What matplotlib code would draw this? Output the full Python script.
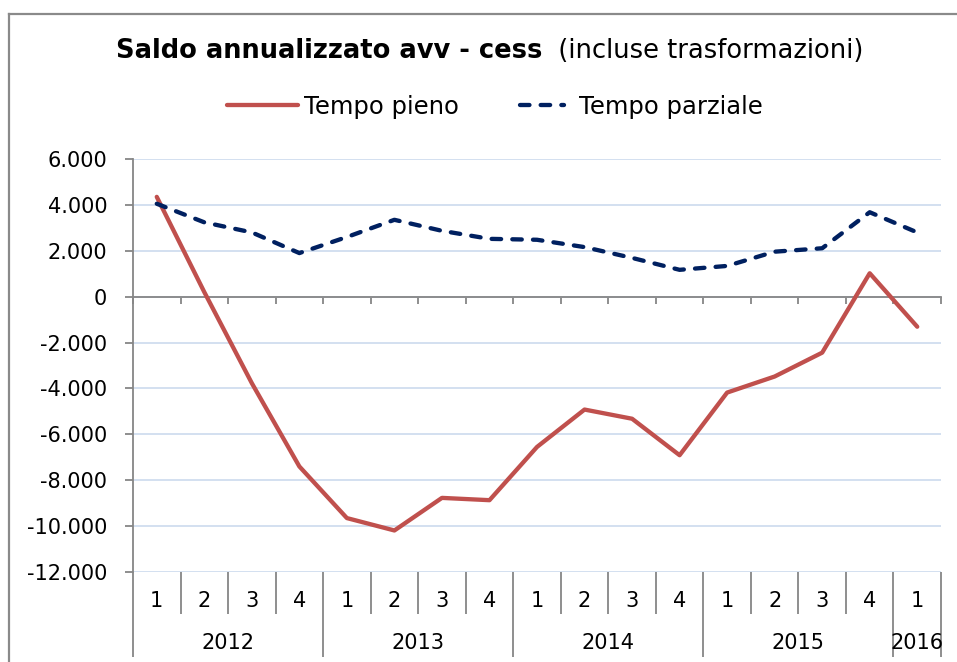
import matplotlib
matplotlib.use("Agg")
import matplotlib.pyplot as plt
from matplotlib.lines import Line2D
from matplotlib.legend_handler import HandlerLine2D
import matplotlib.transforms as mtransforms
import numpy as np

# ---- data ----
years = ["2012", "2013", "2014", "2015", "2016"]
quarters = ["1", "2", "3", "4", "1", "2", "3", "4", "1", "2", "3", "4",
            "1", "2", "3", "4", "1"]
year_of_point = ["2012"] * 4 + ["2013"] * 4 + ["2014"] * 4 + ["2015"] * 4 + ["2016"]
tempo_pieno = [4350, 200, -3770, -7400, -9650, -10190, -8770, -8870,
               -6550, -4920, -5320, -6910, -4180, -3480, -2440, 1020, -1310]
tempo_parziale = [4050, 3240, 2800, 1900, 2600, 3350, 2870, 2520,
                  2480, 2160, 1690, 1170, 1340, 1960, 2110, 3680, 2800]
y_ticks = [6000, 4000, 2000, 0, -2000, -4000, -6000, -8000, -10000, -12000]
y_tick_labels = ["6.000", "4.000", "2.000", "0", "-2.000", "-4.000",
                 "-6.000", "-8.000", "-10.000", "-12.000"]
title_bold = "Saldo annualizzato avv - cess"
title_regular = "(incluse trasformazioni)"
series_names = ["Tempo pieno", "Tempo parziale"]

RED = "#C0504D"
NAVY = "#002060"
GRID = "#CCDAEE"
AXIS = "#868686"

plt.rcParams["font.family"] = ["DejaVu Sans"]

W, H = 957, 662
fig = plt.figure(figsize=(W / 100, H / 100), dpi=100)

# figure border (only top and left edges are visible in the reference)
fig.add_artist(Line2D([9 / W, 9 / W], [0, 1 - 14 / H], transform=fig.transFigure,
                      color="#8A8A8A", lw=1.6, solid_capstyle="projecting"))
fig.add_artist(Line2D([9 / W, 1], [1 - 14 / H, 1 - 14 / H], transform=fig.transFigure,
                      color="#8A8A8A", lw=1.6, solid_capstyle="projecting"))

left, right, top, bottom = 133, 941, 159, 572
ax = fig.add_axes([left / W, 1 - bottom / H, (right - left) / W, (bottom - top) / H])

n = len(quarters)
x = list(range(n))

ax.plot(x, tempo_pieno, color=RED, lw=3.1, solid_capstyle="round",
        solid_joinstyle="round", zorder=4, label=series_names[0])
ax.plot(x, tempo_parziale, color=NAVY, lw=3.1, dashes=(2.2, 2.6),
        dash_capstyle="round", zorder=4, label=series_names[1])

ax.set_xlim(-0.5, n - 0.5)
ax.set_ylim(-12000, 6000)
ax.set_yticks(y_ticks)
ax.set_yticklabels(y_tick_labels, fontsize=15)
ax.grid(axis="y", color=GRID, lw=1.2)
ax.set_axisbelow(True)

for s in ["top", "right"]:
    ax.spines[s].set_visible(False)
ax.spines["left"].set_color(AXIS)
ax.spines["left"].set_linewidth(1.3)
ax.spines["bottom"].set_position(("data", 0))
ax.spines["bottom"].set_color(AXIS)
ax.spines["bottom"].set_linewidth(1.3)
ax.spines["bottom"].set_zorder(3)

ax.set_xticks([i - 0.5 for i in range(n + 1)])
ax.set_xticklabels([])
ax.tick_params(axis="x", direction="out", length=5, color=AXIS, width=1.3)
ax.tick_params(axis="y", direction="out", length=6, color=AXIS, width=1.3, pad=12.5)

# multi-level category labels below the plot
trans = mtransforms.blended_transform_factory(ax.transData, ax.transAxes)
ph = bottom - top
y_q = -(601 - bottom) / ph
y_y = -(643 - bottom) / ph
y_qsep = -(614 - bottom) / ph
y_ysep = -(657 - bottom) / ph

for i, q in enumerate(quarters):
    ax.text(i, y_q, q, transform=trans, ha="center", va="center", fontsize=15)

boundaries = [i - 0.5 for i in range(n + 1)]
for b in boundaries:
    i_right = int(b + 0.5)
    is_year_boundary = (i_right == 0 or i_right == n or
                        year_of_point[i_right] != year_of_point[i_right - 1])
    ax.plot([b, b], [0, y_ysep if is_year_boundary else y_qsep], transform=trans,
            color=AXIS, lw=1.3, clip_on=False, solid_capstyle="butt")

for yr in years:
    idx = [i for i, yy in enumerate(year_of_point) if yy == yr]
    cx = (idx[0] + idx[-1]) / 2
    ax.text(cx, y_y, yr, transform=trans, ha="center", va="center", fontsize=15)

# title (bold + regular), centred as a whole
fig.canvas.draw()
r = fig.canvas.get_renderer()
t1 = fig.text(0, 1 - 51 / H, title_bold, fontsize=18.5, fontweight="bold",
              ha="left", va="center")
t2 = fig.text(0, 1 - 51 / H, "  " + title_regular, fontsize=18.5,
              ha="left", va="center")
w1 = t1.get_window_extent(r).width
w2 = t2.get_window_extent(r).width
x0 = 490 - (w1 + w2) / 2
t1.set_x(x0 / W)
t2.set_x((x0 + w1) / W)


class ShortLineHandler(HandlerLine2D):
    def __init__(self, frac, **kw):
        super().__init__(**kw)
        self.frac = frac

    def get_xdata(self, legend, xdescent, ydescent, width, height, fontsize):
        xdata, xdata_marker = super().get_xdata(legend, xdescent, ydescent,
                                                width, height, fontsize)
        xdata = np.asarray(xdata, dtype=float)
        c = xdata.mean()
        xdata = c + (xdata - c) * self.frac + 3
        return xdata, xdata_marker


handles, labels = ax.get_legend_handles_labels()
leg = fig.legend(handles, labels, loc="center", bbox_to_anchor=(495 / W, 1 - 107 / H),
                 ncol=2, frameon=False, fontsize=17.5, handlelength=2.9,
                 handletextpad=0.25, columnspacing=1.8,
                 handler_map={handles[1]: ShortLineHandler(0.63)})

fig.savefig("out.png", dpi=100)
